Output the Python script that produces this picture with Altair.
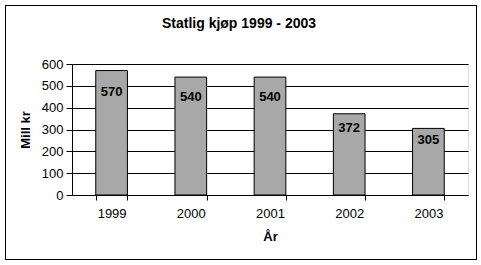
import altair as alt
import pandas as pd

years = ["1999", "2000", "2001", "2002", "2003"]
values = [570, 540, 540, 372, 305]
title_text = "Statlig kjøp 1999 - 2003"

df = pd.DataFrame({"year": years, "value": values})

FONT = "Liberation Sans"
W, H = 396, 131
PL, PT = 72, 64

base = alt.Chart(df)

x_axis = alt.Axis(
    title="År",
    labelAngle=0,
    tickBand="extent",
    tickSize=5,
    tickColor="black",
    domainColor="black",
    labelPadding=7,
    labelFontSize=13,
    labelFont=FONT,
    labelColor="black",
    titleFont=FONT,
    titleFontSize=13,
    titleFontWeight="bold",
    titleColor="black",
    titlePadding=10,
    grid=False,
)

y_axis = alt.Axis(
    title="Mill kr",
    values=[0, 100, 200, 300, 400, 500, 600],
    labelOverlap=False,
    tickSize=6,
    tickColor="black",
    domainColor="black",
    labelPadding=3,
    labelFontSize=13,
    labelFont=FONT,
    labelColor="black",
    titleFont=FONT,
    titleFontSize=13,
    titleFontWeight="bold",
    titleColor="black",
    titlePadding=9,
    grid=True,
    gridColor="black",
    gridOpacity=1,
    gridWidth=1,
)

x_scale = alt.Scale(paddingInner=0.6, paddingOuter=0.3)
y_scale = alt.Scale(domain=[0, 600], nice=False)

bars = base.mark_bar(fill="#a8a8a8", stroke="black", strokeWidth=1).encode(
    x=alt.X("year:N", sort=years, scale=x_scale, axis=x_axis),
    y=alt.Y("value:Q", scale=y_scale, axis=y_axis),
)

labels = base.transform_calculate(label_y="datum.value * 0.83").mark_text(
    font=FONT, fontSize=13, fontWeight="bold", color="black", baseline="middle"
).encode(
    x=alt.X("year:N", sort=years, scale=x_scale, axis=x_axis),
    y=alt.Y("label_y:Q", scale=y_scale, axis=y_axis),
    text=alt.Text("value:Q"),
)

border = base.mark_rect(fill=None, stroke="black", strokeWidth=1).encode(
    x=alt.value(5 - PL + 0.5),
    x2=alt.value(476 - PL + 0.5),
    y=alt.value(5 - PT + 0.5),
    y2=alt.value(259 - PT + 0.5),
)

title = alt.Chart(pd.DataFrame({"t": [title_text]})).mark_text(
    font=FONT, fontSize=14, fontWeight="bold", color="black", baseline="alphabetic", align="center"
).encode(
    text="t:N",
    x=alt.value(239 - PL),
    y=alt.value(28 - PT),
)

chart = (
    alt.layer(border, bars, labels, title)
    .properties(
        width=W,
        height=H,
        autosize=alt.AutoSizeParams(type="none"),
        padding={"left": PL, "top": PT, "right": 481 - PL - W, "bottom": 265 - PT - H},
    )
    .configure_view(fill="#a8a8a8", stroke="#808080", strokeWidth=1)
    .configure(background="white")
)

chart.save("out.html", embed_options={"renderer": "svg", "actions": False})
